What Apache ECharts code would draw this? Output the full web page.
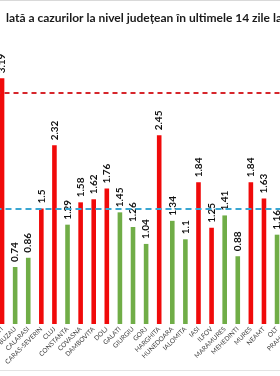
<!DOCTYPE html>
<html>
<head>
<meta charset="utf-8">
<script src="https://cdn.jsdelivr.net/npm/echarts@6/dist/echarts.min.js"></script>
<style>
  html, body { margin: 0; padding: 0; background: #fff; }
  #chart { width: 280px; height: 376px; }
</style>
</head>
<body>
<div id="chart"></div>
<script>
// judete (vizibile in decupaj)
var judete = ['BUCURESTI', 'BUZAU', 'CALARASI', 'CARAS-SEVERIN', 'CLUJ', 'CONSTANTA',
    'COVASNA', 'DAMBOVITA', 'DOLJ', 'GALATI', 'GIURGIU', 'GORJ', 'HARGHITA',
    'HUNEDOARA', 'IALOMITA', 'IASI', 'ILFOV', 'MARAMURES', 'MEHEDINTI', 'MURES',
    'NEAMT', 'OLT', 'PRAHOVA'];
// incidenta la 1000 locuitori (PRAHOVA iese din imagine)
var incidenta = [3.19, 0.74, 0.86, 1.5, 2.32, 1.29, 1.58, 1.62, 1.76, 1.45, 1.26, 1.04,
    2.45, 1.34, 1.1, 1.84, 1.25, 1.41, 0.88, 1.84, 1.63, 1.16, null];
// 1 = in crestere (rosu), 0 = in scadere (verde)
var crestere = [1, 0, 0, 1, 1, 0, 1, 1, 1, 0, 0, 0, 1, 0, 0, 1, 1, 0, 0, 1, 1, 0, 0];
var pragRosu = 3;
var pragAlbastru = 1.5;

var myChart = echarts.init(document.getElementById('chart'));

myChart.setOption({
    animation: false,
    textStyle: {fontFamily: 'Lato'},
    title: {
        text: 'lată a cazurilor la nivel județean în ultimele 14 zile la',
        left: 1,
        top: 7,
        textStyle: {fontSize: 12, fontWeight: 'bold', color: '#1a1a1a', fontFamily: 'Lato'}
    },
    graphic: [
        {type: 'rect', shape: {x: 0, y: 0, width: 280, height: 1}, style: {fill: '#d9d9d9'}},
        {type: 'rect', shape: {x: 0, y: 370, width: 280, height: 1}, style: {fill: '#e3e3e3'}}
    ],
    // graficul e decupat: prima si ultima coloana ies partial din imagine
    grid: {left: -4.5, right: -16.7, top: 16, bottom: 52, outerBoundsMode: 'none', containLabel: false},
    xAxis: {
        type: 'category',
        data: judete,
        axisLine: {show: false},
        axisTick: {show: false},
        axisLabel: {
            interval: 0,
            rotate: 45,
            fontSize: 6.5,
            color: '#404040',
            margin: 4
        }
    },
    yAxis: {
        type: 'value',
        min: 0,
        max: 4,
        show: false,
        splitLine: {show: false}
    },
    series: [{
        type: 'bar',
        data: incidenta.map(function(v, i) {
            return {
                value: v,
                itemStyle: {color: crestere[i] ? '#f00a0a' : '#70ad47'}
            };
        }),
        barWidth: 4.6,
        label: {
            show: true,
            position: 'top',
            rotate: 90,
            align: 'left',
            verticalAlign: 'middle',
            distance: 5,
            fontSize: 10,
            fontWeight: 'bold',
            color: '#111'
        },
        markLine: {
            symbol: 'none',
            silent: true,
            label: {show: false},
            data: [
                {yAxis: pragRosu, lineStyle: {color: '#d6252b', type: [5, 4], width: 2}},
                {yAxis: pragAlbastru, lineStyle: {color: '#3aa6d2', type: [6, 4], width: 2}}
            ]
        }
    }]
});
window.onresize = myChart.resize;
</script>
</body>
</html>
